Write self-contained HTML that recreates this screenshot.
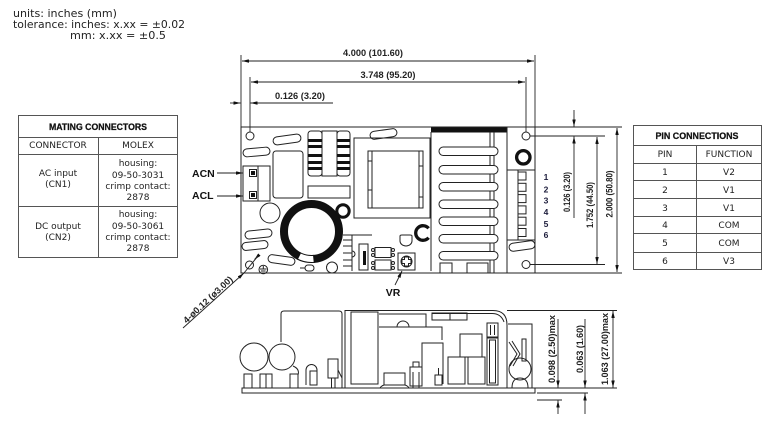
<!DOCTYPE html>
<html><head><meta charset="utf-8">
<style>
html,body{margin:0;padding:0;background:#fff;}
svg{display:block;}
.t{font-family:"DejaVu Sans","Liberation Sans",sans-serif;font-size:9px;fill:#222;}
.tl{font-family:"DejaVu Sans","Liberation Sans",sans-serif;font-size:10.8px;fill:#222;}
.h{font-family:"Liberation Sans",sans-serif;font-weight:bold;font-size:9px;fill:#111;stroke:#111;stroke-width:0.25;}
.d{font-family:"Liberation Sans",sans-serif;font-weight:bold;font-size:9px;fill:#222;}
.b{font-family:"Liberation Sans",sans-serif;font-weight:bold;font-size:10.5px;fill:#111;}
.n{font-family:"Liberation Sans",sans-serif;font-weight:bold;font-size:8.5px;fill:#1b1b3a;}
</style></head><body>
<svg width="782" height="430" viewBox="0 0 782 430" xmlns="http://www.w3.org/2000/svg">
<defs>
<marker id="ar" viewBox="0 0 8 4" refX="8" refY="2" markerWidth="7" markerHeight="3.5" markerUnits="userSpaceOnUse" orient="auto-start-reverse"><path d="M0,0 L8,2 L0,4 z" fill="#111"/></marker>
</defs>
<rect width="782" height="430" fill="#fff"/>

<!-- units text -->
<text class="tl" x="13" y="17" textLength="104" lengthAdjust="spacingAndGlyphs">units: inches (mm)</text>
<text class="tl" x="13" y="28" textLength="172" lengthAdjust="spacingAndGlyphs">tolerance: inches: x.xx = ±0.02</text>
<text class="tl" x="70" y="39" textLength="96" lengthAdjust="spacingAndGlyphs">mm: x.xx = ±0.5</text>

<!-- Mating connectors table -->
<g stroke="#555" stroke-width="1" fill="none">
<rect x="18.5" y="115.5" width="159" height="142"/>
<line x1="18.5" y1="137.5" x2="177.5" y2="137.5"/>
<line x1="18.5" y1="154.5" x2="177.5" y2="154.5"/>
<line x1="18.5" y1="206.5" x2="177.5" y2="206.5"/>
<line x1="98.5" y1="137.5" x2="98.5" y2="257.5"/>
</g>
<text class="h" x="98" y="130" text-anchor="middle" textLength="98" lengthAdjust="spacingAndGlyphs">MATING CONNECTORS</text>
<g text-anchor="middle">
<text class="t" x="58" y="148">CONNECTOR</text>
<text class="t" x="138" y="148">MOLEX</text>
<text class="t" x="58" y="176">AC input</text>
<text class="t" x="58" y="187">(CN1)</text>
<text class="t" x="138" y="166">housing:</text>
<text class="t" x="138" y="178">09-50-3031</text>
<text class="t" x="138" y="189">crimp contact:</text>
<text class="t" x="138" y="200">2878</text>
<text class="t" x="58" y="229">DC output</text>
<text class="t" x="58" y="240">(CN2)</text>
<text class="t" x="138" y="217">housing:</text>
<text class="t" x="138" y="229">09-50-3061</text>
<text class="t" x="138" y="240">crimp contact:</text>
<text class="t" x="138" y="251">2878</text>
</g>

<!-- Pin connections table -->
<g stroke="#555" stroke-width="1" fill="none">
<rect x="633.5" y="125.5" width="128" height="144"/>
<line x1="633.5" y1="145.5" x2="761.5" y2="145.5"/>
<line x1="633.5" y1="163.5" x2="761.5" y2="163.5"/>
<line x1="633.5" y1="180.5" x2="761.5" y2="180.5"/>
<line x1="633.5" y1="198.5" x2="761.5" y2="198.5"/>
<line x1="633.5" y1="216.5" x2="761.5" y2="216.5"/>
<line x1="633.5" y1="233.5" x2="761.5" y2="233.5"/>
<line x1="633.5" y1="252.5" x2="761.5" y2="252.5"/>
<line x1="696.5" y1="145.5" x2="696.5" y2="269.5"/>
</g>
<text class="h" x="697" y="139" text-anchor="middle" textLength="83" lengthAdjust="spacingAndGlyphs">PIN CONNECTIONS</text>
<g text-anchor="middle">
<text class="t" x="665" y="157">PIN</text>
<text class="t" x="729" y="157">FUNCTION</text>
<text class="t" x="665" y="175">1</text><text class="t" x="729" y="175">V2</text>
<text class="t" x="665" y="193">2</text><text class="t" x="729" y="193">V1</text>
<text class="t" x="665" y="211">3</text><text class="t" x="729" y="211">V1</text>
<text class="t" x="665" y="228">4</text><text class="t" x="729" y="228">COM</text>
<text class="t" x="665" y="246">5</text><text class="t" x="729" y="246">COM</text>
<text class="t" x="665" y="264">6</text><text class="t" x="729" y="264">V3</text>
</g>

<!-- Top dimensions -->
<g stroke="#222" stroke-width="0.9" fill="none">
<line x1="241" y1="55" x2="241" y2="127"/>
<line x1="535" y1="55" x2="535" y2="127"/>
<line x1="250" y1="77" x2="250" y2="132"/>
<line x1="526" y1="77" x2="526" y2="132"/>
<line x1="242" y1="61" x2="534" y2="61" marker-start="url(#ar)" marker-end="url(#ar)"/>
<line x1="251" y1="82" x2="525" y2="82" marker-start="url(#ar)" marker-end="url(#ar)"/>
<line x1="230" y1="103" x2="240.5" y2="103" marker-end="url(#ar)"/>
<line x1="250.5" y1="103" x2="333" y2="103" marker-start="url(#ar)"/>
</g>
<text class="d" x="373" y="56" text-anchor="middle" textLength="60" lengthAdjust="spacingAndGlyphs">4.000 (101.60)</text>
<text class="d" x="388" y="78" text-anchor="middle" textLength="55" lengthAdjust="spacingAndGlyphs">3.748 (95.20)</text>
<text class="d" x="300" y="99" text-anchor="middle" textLength="50" lengthAdjust="spacingAndGlyphs">0.126 (3.20)</text>

<!-- Right dimensions -->
<g stroke="#222" stroke-width="0.9" fill="none">
<line x1="535" y1="127" x2="622" y2="127"/>
<line x1="530" y1="136" x2="605" y2="136"/>
<line x1="530" y1="264.5" x2="605" y2="264.5"/>
<line x1="535" y1="273" x2="622" y2="273"/>
<line x1="574" y1="110" x2="574" y2="126.5" marker-end="url(#ar)"/>
<line x1="574" y1="136.5" x2="574" y2="218" marker-start="url(#ar)"/>
<line x1="597" y1="137" x2="597" y2="264" marker-start="url(#ar)" marker-end="url(#ar)"/>
<line x1="617" y1="128" x2="617" y2="272" marker-start="url(#ar)" marker-end="url(#ar)"/>
</g>
<text class="d" transform="translate(567,192) rotate(-90)" y="3" text-anchor="middle" textLength="40" lengthAdjust="spacingAndGlyphs">0.126 (3.20)</text>
<text class="d" transform="translate(590,205) rotate(-90)" y="3" text-anchor="middle" textLength="46" lengthAdjust="spacingAndGlyphs">1.752 (44.50)</text>
<text class="d" transform="translate(609.5,194) rotate(-90)" y="3" text-anchor="middle" textLength="47" lengthAdjust="spacingAndGlyphs">2.000 (50.80)</text>

<!-- pin numbers -->
<g text-anchor="middle">
<text class="n" x="546" y="180">1</text>
<text class="n" x="546" y="192.5">2</text>
<text class="n" x="546" y="203.5">3</text>
<text class="n" x="546" y="215">4</text>
<text class="n" x="546" y="227">5</text>
<text class="n" x="546" y="238">6</text>
</g>

<!-- ACN / ACL -->
<text class="b" x="192" y="177">ACN</text>
<text class="b" x="192" y="199">ACL</text>
<g stroke="#222" stroke-width="0.9">
<line x1="217" y1="173" x2="243" y2="173" marker-end="url(#ar)"/>
<line x1="217" y1="196" x2="243" y2="196" marker-end="url(#ar)"/>
</g>

<!-- PCB top view -->
<g stroke="#222" stroke-width="1" fill="#fff">
<rect x="241" y="127" width="294" height="146" fill="none"/>
<circle cx="250" cy="136" r="4"/>
<circle cx="526" cy="136" r="4"/>
<circle cx="249.5" cy="265" r="4"/>
<circle cx="526" cy="264.5" r="4"/>
<rect x="273" y="135.5" width="28" height="8" rx="4" transform="rotate(-8 287 139.5)"/>
<rect x="243" y="148" width="27" height="8" rx="4" transform="rotate(-5 256.5 152)"/>
<rect x="370" y="130" width="27" height="8" rx="4" transform="rotate(-8 383.5 134)"/>
<rect x="245" y="230" width="27" height="8" rx="4" transform="rotate(-6 258.5 234)"/>
<rect x="242" y="241.5" width="26" height="8" rx="4" transform="rotate(-6 255 245.5)"/>
<rect x="268" y="256" width="27" height="8" rx="4" transform="rotate(8 281.5 260)"/>
<rect x="509" y="242" width="26" height="8" rx="4" transform="rotate(-8 522 246)"/>
<rect x="273" y="151" width="30" height="47" rx="3"/>
<rect x="243" y="166" width="27" height="35"/>
<line x1="258" y1="166" x2="258" y2="201"/>
<rect x="249.5" y="169.5" width="7" height="7"/>
<rect x="249.5" y="191.5" width="7" height="7"/>
</g>
<rect x="251" y="171" width="4" height="4" fill="#111"/>
<rect x="251" y="193" width="4" height="4" fill="#111"/>

<!-- choke -->
<g stroke="#222" stroke-width="1" fill="#fff">
<rect x="308" y="131" width="14" height="45" rx="3"/>
<rect x="337" y="131" width="13" height="45" rx="3"/>
<rect x="322" y="131" width="15" height="45"/>
<rect x="308" y="186" width="42" height="12"/>
<circle cx="270" cy="213" r="10"/>
</g>
<g fill="#111">
<rect x="308" y="139" width="14" height="3"/><rect x="308" y="145" width="14" height="3"/>
<rect x="308" y="154" width="14" height="3"/><rect x="308" y="161" width="14" height="3"/>
<rect x="308" y="167" width="14" height="3"/>
<rect x="337" y="139" width="13" height="3"/><rect x="337" y="145" width="13" height="3"/>
<rect x="337" y="154" width="13" height="3"/><rect x="337" y="161" width="13" height="3"/>
<rect x="337" y="167" width="13" height="3"/>
</g>

<!-- toroid -->
<circle cx="311.5" cy="231.5" r="27.5" fill="none" stroke="#111" stroke-width="8"/>
<path d="M313.9,258.9 A27.5,27.5 0 0 1 299,256" fill="none" stroke="#fff" stroke-width="6"/>
<g stroke="#111" stroke-width="1">
<line x1="313.5" y1="254.9" x2="314.3" y2="262.9"/>
<line x1="300.8" y1="252.4" x2="297.2" y2="259.6"/>
</g>
<circle cx="343" cy="211" r="6.2" fill="#fff" stroke="#111" stroke-width="3"/>

<!-- transformer -->
<g stroke="#222" stroke-width="1" fill="none">
<rect x="354" y="138" width="76" height="80"/>
<rect x="368" y="151" width="55" height="57"/>
<line x1="372" y1="151" x2="372" y2="208"/>
<line x1="419" y1="151" x2="419" y2="208"/>
<line x1="368" y1="161" x2="372" y2="161"/><line x1="368" y1="190" x2="372" y2="190"/>
<line x1="419" y1="166" x2="423" y2="166"/><line x1="419" y1="197" x2="423" y2="197"/>
</g>

<!-- heatsink -->
<rect x="431" y="127.5" width="76" height="5" fill="#111"/>
<g stroke="#222" stroke-width="1" fill="none">
<line x1="431" y1="132" x2="431" y2="271"/>
<line x1="490" y1="132" x2="490" y2="273"/>
<line x1="494" y1="132" x2="494" y2="273"/>
<line x1="507" y1="127" x2="507" y2="273"/>
<path d="M440,273 V263 H452 V273"/>
<path d="M467,273 V263 H488 V273"/>
</g>
<g stroke="#222" stroke-width="1" fill="#fff">
<rect x="439" y="147" width="59" height="8.5" rx="4.2"/>
<rect x="439" y="165.5" width="59" height="8.5" rx="4.2"/>
<rect x="439" y="182.5" width="59" height="8.5" rx="4.2"/>
<rect x="439" y="200" width="59" height="8.5" rx="4.2"/>
<rect x="439" y="217" width="59" height="8.5" rx="4.2"/>
<rect x="439" y="234.5" width="59" height="8.5" rx="4.2"/>
<rect x="439" y="251.5" width="59" height="8.5" rx="4.2"/>
</g>

<!-- right region -->
<circle cx="523.3" cy="157.3" r="6.7" fill="#fff" stroke="#111" stroke-width="3.3"/>
<g stroke="#222" stroke-width="1" fill="none">
<line x1="507" y1="170" x2="535" y2="170"/>
<line x1="507" y1="240" x2="535" y2="240"/>
<line x1="518" y1="170" x2="518" y2="240"/>
<rect x="518" y="172" width="8" height="8"/>
<rect x="518" y="183.3" width="8" height="8"/>
<rect x="518" y="194.6" width="8" height="8"/>
<rect x="518" y="205.9" width="8" height="8"/>
<rect x="518" y="217.2" width="8" height="8"/>
<rect x="518" y="228.5" width="8" height="8"/>
</g>

<!-- lower middle components -->
<path d="M428.6,228.3 A7.3,7.3 0 1 0 428.6,237.7" fill="none" stroke="#111" stroke-width="3.3"/>
<g stroke="#222" stroke-width="1" fill="#fff">
<path d="M400,236 Q400,235 402,235 H410 Q412,235 412,236 V241 A6,5 0 0 1 400,241 Z"/>
<rect x="398" y="253" width="17" height="17"/>
<circle cx="406.5" cy="261.5" r="5.5"/>
<path d="M404.5,257 H408.5 V259.5 H411 V263.5 H408.5 V266 H404.5 V263.5 H402 V259.5 H404.5 Z"/>
<rect x="375" y="247.5" width="16" height="10"/>
<rect x="375" y="260" width="16" height="10"/>
<circle cx="373" cy="250" r="1.5"/><circle cx="373" cy="255" r="1.5"/>
<circle cx="393" cy="250" r="1.5"/><circle cx="393" cy="255" r="1.5"/>
<circle cx="373" cy="263" r="1.5"/><circle cx="373" cy="268" r="1.5"/>
<circle cx="393" cy="263" r="1.5"/><circle cx="393" cy="268" r="1.5"/>
</g>
<g stroke="#222" stroke-width="1" fill="none">
<path d="M343,235 H372"/>
<line x1="352" y1="235" x2="352" y2="271"/>
<line x1="343" y1="240" x2="352" y2="240"/>
<line x1="343" y1="246" x2="352" y2="246"/>
<line x1="343" y1="253" x2="352" y2="253"/>
<line x1="343" y1="260" x2="352" y2="260"/>
<line x1="343" y1="266" x2="352" y2="266"/>
<rect x="359" y="244" width="9" height="26"/>
<path d="M352,251 A3,3 0 0 1 352,257"/>
<rect x="305" y="265" width="9" height="6" rx="3"/>
<line x1="300" y1="268" x2="305" y2="268"/>
<circle cx="332" cy="267.5" r="5.5"/>
<circle cx="263.3" cy="269.5" r="4.3"/>
<line x1="263.3" y1="266" x2="263.3" y2="269"/>
<line x1="260" y1="269" x2="266.6" y2="269"/>
<line x1="261" y1="271" x2="265.6" y2="271"/>
<line x1="262" y1="273" x2="264.6" y2="273"/>
</g>
<rect x="363" y="251" width="3" height="14" fill="#111"/>

<!-- VR -->
<text class="b" x="393" y="296" text-anchor="middle" font-size="10">VR</text>
<line x1="395" y1="285" x2="402" y2="271" stroke="#222" stroke-width="0.9" marker-end="url(#ar)"/>

<!-- hole leader -->
<g stroke="#222" stroke-width="0.9" fill="none">
<line x1="183" y1="328" x2="244" y2="273" marker-end="url(#ar)"/>
<line x1="258" y1="256" x2="254.5" y2="259.5" marker-end="url(#ar)"/>
<line x1="244" y1="273" x2="258" y2="256"/>
</g>
<text class="d" transform="translate(211,303) rotate(-43)" y="-1.5" text-anchor="middle" textLength="64" lengthAdjust="spacingAndGlyphs" font-size="8.5">4-ø0.12 (ø3.00)</text>

<!-- Side view -->
<g stroke="#222" stroke-width="1" fill="none">
<rect x="242" y="388" width="293" height="5"/>
<path d="M281,342 V314 Q281,311 284,311 H339 Q342,311 342,314 V388"/>
<path d="M345,388 V310.5 H493 Q507,310.5 507,325 V388"/>
<path d="M432,313.5 H492 Q501,313.5 504,322"/>
<rect x="351" y="312" width="27" height="72"/>
<path d="M379,314 H426 V327"/>
<path d="M379,327 H442 V340"/>
<path d="M397,327 A6,6 0 0 1 409,327"/>
<path d="M422,372 V343 H443 V384"/>
<rect x="432" y="313" width="35" height="7"/>
<line x1="450" y1="313" x2="450" y2="320"/>
<rect x="460" y="334" width="22" height="23"/>
<rect x="448" y="357" width="17" height="27"/>
<rect x="468" y="357" width="17" height="27"/>
<rect x="487" y="323" width="11" height="14"/>
<line x1="490.5" y1="325" x2="490.5" y2="335"/>
<line x1="494.5" y1="325" x2="494.5" y2="335"/>
<rect x="487" y="338" width="11" height="47"/>
<rect x="489.5" y="340" width="6" height="43"/>
<rect x="384" y="373" width="21" height="12"/>
<path d="M384,385 Q381,386 380,388"/><path d="M405,385 Q408,386 409,388"/>
<rect x="410" y="367" width="12" height="19"/>
<rect x="413" y="362" width="6" height="5"/>
<line x1="413" y1="372" x2="413" y2="388"/><line x1="419" y1="372" x2="419" y2="388"/>
<rect x="435" y="375" width="7" height="10"/>
<line x1="438.5" y1="368" x2="438.5" y2="375"/>
<path d="M508,324 H532 V388"/>
<circle cx="520" cy="369" r="11"/>
<path d="M512,388 Q512,378 520,378 Q528,378 528,388"/>
<polyline points="509,342 517,354 510,366"/>
<polyline points="512,341 520,354 513,366"/>
<rect x="522" y="339" width="4" height="22"/>
<rect x="244" y="374" width="8" height="14"/>
<rect x="260" y="374" width="6" height="14"/>
<rect x="266" y="374" width="6" height="14"/>
<rect x="290" y="374" width="8" height="14"/>
</g>
<g stroke="#222" stroke-width="1" fill="#fff">
<circle cx="254" cy="357" r="14"/>
<circle cx="282" cy="357" r="13"/>
</g>
<g stroke="#222" stroke-width="1" fill="none">
<path d="M293,366 Q300,369 298,375"/>
<path d="M306,385 V370 A5.5,5.5 0 0 1 317,370 V385"/>
<rect x="310" y="371" width="7" height="14"/>
<rect x="328" y="359" width="10" height="19"/>
<line x1="331.5" y1="378" x2="331.5" y2="388"/>
<line x1="335" y1="378" x2="335" y2="388"/>
<path d="M338,370 L342,378"/>
</g>

<!-- side view dimensions -->
<g stroke="#222" stroke-width="0.9" fill="none">
<line x1="507" y1="310.5" x2="617" y2="310.5"/>
<line x1="535" y1="388" x2="617" y2="388"/>
<line x1="537" y1="393" x2="588" y2="393"/>
<line x1="537" y1="400" x2="562" y2="400"/>
<line x1="558" y1="319" x2="558" y2="387.5" marker-end="url(#ar)"/>
<line x1="558" y1="400.5" x2="558" y2="414" marker-start="url(#ar)"/>
<line x1="585" y1="319" x2="585" y2="387.5" marker-end="url(#ar)"/>
<line x1="585" y1="393.5" x2="585" y2="414" marker-start="url(#ar)"/>
<line x1="613" y1="311" x2="613" y2="387.5" marker-start="url(#ar)" marker-end="url(#ar)"/>
</g>
<text class="d" transform="translate(552,349) rotate(-90)" y="3" text-anchor="middle" textLength="68" lengthAdjust="spacingAndGlyphs">0.098 (2.50)max</text>
<text class="d" transform="translate(580,349) rotate(-90)" y="3" text-anchor="middle" textLength="48" lengthAdjust="spacingAndGlyphs">0.063 (1.60)</text>
<text class="d" transform="translate(605,349) rotate(-90)" y="3" text-anchor="middle" textLength="72" lengthAdjust="spacingAndGlyphs">1.063 (27.00)max</text>
</svg>
</body></html>
